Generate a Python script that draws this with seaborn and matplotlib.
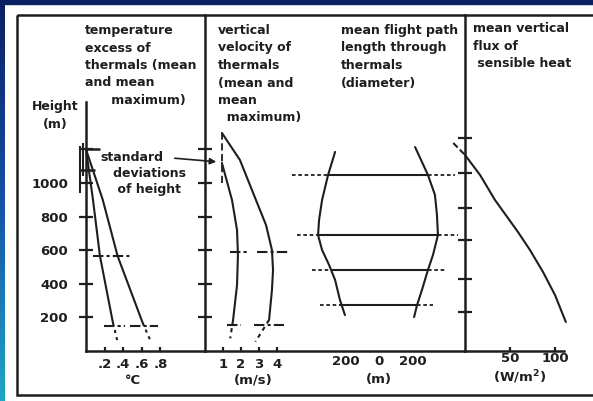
import matplotlib
matplotlib.use('Agg')
import matplotlib.pyplot as plt
import seaborn as sns
import numpy as np
from matplotlib.patches import Rectangle
from matplotlib.colors import LinearSegmentedColormap

sns.set_style("white")
plt.rcParams["font.family"] = ["DejaVu Sans"]
plt.rcParams["font.weight"] = "bold"

INK = "#1e1e1e"
W, H = 593, 401

# shared height axis (m)
height_ticks = [200, 400, 600, 800, 1000, 1200]
height_labels = ["200", "400", "600", "800", "1000", ""]
flux_axis_ticks = [230, 430, 660, 850, 1060, 1270]

# temperature excess of thermals (deg C)
temp_h = [1200, 900, 565, 167]
temp_mean = [0.0, 0.075, 0.15, 0.29]
temp_max = [0.0, 0.18, 0.34, 0.61]
temp_ext_h = [167, 65]
temp_mean_ext = [0.29, 0.335]
temp_max_ext = [0.61, 0.69]
temp_sd_h = [565, 150, 150]
temp_sd_lo = [0.075, 0.19, 0.47]
temp_sd_hi = [0.47, 0.42, 0.77]
temp_ticks = [0.2, 0.4, 0.6, 0.8]
temp_tick_labels = [".2", ".4", ".6", ".8"]

# standard deviations of height (bars left of the height axis)
sdh_x = [-0.065, -0.03]
sdh_lo = [940, 1040]
sdh_hi = [1220, 1240]
sdh_cap_h = [1200, 1077]
sdh_cap_lo = [0.0, -0.065]
sdh_cap_hi = [0.15, 0.1]

# vertical velocity of thermals (m/s)
vel_mean_h = [1119, 899, 720, 571, 393, 185]
vel_mean = [0.94, 1.5, 1.78, 1.83, 1.78, 1.56]
vel_mean_ext_h = [185, 75]
vel_mean_ext = [1.56, 1.4]
vel_max_h = [1298, 1137, 899, 750, 601, 482, 363, 185]
vel_max = [0.94, 1.94, 2.83, 3.39, 3.72, 3.78, 3.72, 3.56]
vel_max_ext_h = [185, 55]
vel_max_ext = [3.56, 2.8]
vel_sd_h = [590, 590, 155, 155]
vel_sd_lo = [1.4, 2.9, 1.2, 2.7]
vel_sd_hi = [2.4, 4.6, 2.0, 4.4]
vel_ticks = [1, 2, 3, 4]

# mean flight path length through thermals (m)
diam_left_h = [1185, 1048, 899, 780, 690, 601, 512, 423, 304, 214]
diam_left = [-263, -305, -341, -359, -365, -341, -299, -263, -234, -204]
diam_right_h = [1214, 1048, 929, 810, 690, 571, 482, 363, 274, 202]
diam_right = [216, 293, 335, 347, 353, 323, 293, 257, 228, 210]
diam_lvl_h = [1048, 690, 482, 274]
diam_lvl_lo = [-305, -365, -287, -240]
diam_lvl_hi = [293, 353, 293, 228]
diam_dot_lo = [-520, -490, -400, -355]
diam_dot_hi = [455, 475, 395, 325]
diam_ticks = [-200, 0, 200]
diam_tick_labels = ["200", "0", "200"]

# mean vertical flux of sensible heat (W/m2)
flux_h = [1167, 1048, 899, 708, 601, 470, 333, 173]
flux = [0, 16.7, 33.3, 58.9, 72.2, 86.7, 100, 112]
flux_ext_h = [1238, 1167]
flux_ext = [-13, 0]
flux_ticks = [50, 100]


fig = plt.figure(figsize=(W / 100, H / 100), dpi=100)
fig.patch.set_facecolor("white")


def px_axes(x0, x1, y0=15, y1=351):
    ax = fig.add_axes([x0 / W, 1 - y1 / H, (x1 - x0) / W, (y1 - y0) / H])
    ax.set_facecolor("none")
    ax.set_ylim(0, 2000)
    for s in ax.spines.values():
        s.set_visible(False)
        s.set_color(INK)
        s.set_linewidth(1.8)
    ax.tick_params(colors=INK, labelsize=9.5, width=1.6, left=True, bottom=True)
    return ax


def ftext(x, y, s, **kw):
    kw.setdefault("fontsize", 9)
    kw.setdefault("color", INK)
    kw.setdefault("fontweight", "bold")
    kw.setdefault("linespacing", 1.45)
    fig.text(x / W, 1 - y / H, s, **kw)


def curve(ax, x, y, ls="-", lw=1.5):
    sns.lineplot(x=x, y=y, ax=ax, sort=False, estimator=None, color=INK,
                 lw=lw, linestyle=ls, clip_on=False)


# background: blue slide border + scanned frame
bg = fig.add_axes([0, 0, 1, 1], zorder=-1)
cmap = LinearSegmentedColormap.from_list("slide", ["#0b1f63", "#1550a8", "#1fa6c6"])
bg.imshow(np.linspace(0, 1, 200)[:, None], extent=(0, 5, H, 0), cmap=cmap, aspect="auto")
bg.add_patch(Rectangle((0, 0), W, 4, color="#0b1f63"))
bg.add_patch(Rectangle((17, 15), 590, 380, fill=False, lw=1.8, ec=INK))
bg.set_xlim(0, W)
bg.set_ylim(H, 0)
bg.axis("off")

# panel 1: temperature excess
ax1 = px_axes(77, 205)
ax1.set_xlim(-0.097, 1.28)
ax1.spines["left"].set_visible(True)
ax1.spines["left"].set_position(("data", 0))
ax1.spines["left"].set_bounds(0, 1480)
ax1.spines["bottom"].set_visible(True)
ax1.spines["bottom"].set_bounds(0, 1.28)
ax1.set_yticks(height_ticks, height_labels)
ax1.tick_params(axis="y", direction="inout", length=10, pad=8)
ax1.set_xticks(temp_ticks, temp_tick_labels)
ax1.tick_params(axis="x", direction="in", length=3, pad=5)
curve(ax1, temp_mean, temp_h)
curve(ax1, temp_max, temp_h)
curve(ax1, temp_mean_ext, temp_ext_h, ls=(0, (1.5, 2)))
curve(ax1, temp_max_ext, temp_ext_h, ls=(0, (1.5, 2)))
ax1.hlines(temp_sd_h, temp_sd_lo, temp_sd_hi, color=INK, lw=1.5, linestyles=(0, (5, 1.5, 1.5, 1.5)))
ax1.vlines(sdh_x, sdh_lo, sdh_hi, color=INK, lw=1.5, clip_on=False)
ax1.hlines(sdh_cap_h, sdh_cap_lo, sdh_cap_hi, color=INK, lw=1.8, clip_on=False)
ax1.set_xlabel("")
ax1.set_ylabel("")

# panel 2: vertical velocity (its bottom axis runs on under panel 3)
ax2 = px_axes(205, 464)
ax2.set_xlim(0, 14.39)
ax2.spines["left"].set_visible(True)
ax2.spines["bottom"].set_visible(True)
ax2.set_yticks(height_ticks, [""] * len(height_ticks))
ax2.tick_params(axis="y", direction="inout", length=10)
ax2.set_xticks(vel_ticks, [str(v) for v in vel_ticks])
ax2.tick_params(axis="x", direction="in", length=3, pad=5)
curve(ax2, vel_mean, vel_mean_h)
curve(ax2, vel_max, vel_max_h)
curve(ax2, vel_mean_ext, vel_mean_ext_h, ls=(0, (2, 2)))
curve(ax2, vel_max_ext, vel_max_ext_h, ls=(0, (2, 2)))
ax2.hlines(vel_sd_h, vel_sd_lo, vel_sd_hi, color=INK, lw=1.5, linestyles=(0, (5, 1.5, 1.5, 1.5)))
ax2.vlines(0.95, 1000, 1300, color=INK, lw=1.3, linestyles=(0, (4, 2)))
ax2.set_xlabel("")
ax2.set_ylabel("")

# panel 3: flight path length (diameter)
ax3 = px_axes(285, 464)
ax3.set_xlim(-563, 509)
ax3.set_yticks([])
ax3.set_xticks(diam_ticks, diam_tick_labels)
ax3.tick_params(axis="x", length=0, pad=3)
curve(ax3, diam_left, diam_left_h)
curve(ax3, diam_right, diam_right_h)
ax3.hlines(diam_lvl_h, diam_lvl_lo, diam_lvl_hi, color=INK, lw=1.5)
ax3.hlines(diam_lvl_h, diam_dot_lo, diam_lvl_lo, color=INK, lw=1.3, linestyles=(0, (2, 1.5)))
ax3.hlines(diam_lvl_h, diam_lvl_hi, diam_dot_hi, color=INK, lw=1.3, linestyles=(0, (2, 1.5)))
ax3.set_xlabel("")
ax3.set_ylabel("")

# panel 4: sensible heat flux
ax4 = px_axes(445, 593)
ax4.set_xlim(-22.2, 142.2)
ax4.spines["left"].set_visible(True)
ax4.spines["left"].set_position(("data", 0))
ax4.spines["bottom"].set_visible(True)
ax4.spines["bottom"].set_bounds(0, 110)
ax4.set_yticks(flux_axis_ticks, [""] * len(flux_axis_ticks))
ax4.tick_params(axis="y", direction="inout", length=10)
ax4.set_xticks(flux_ticks, [str(v) for v in flux_ticks])
ax4.tick_params(axis="x", direction="in", length=3, pad=1)
curve(ax4, flux, flux_h)
curve(ax4, flux_ext, flux_ext_h, ls=(0, (3, 1.5)))
ax4.set_xlabel("")
ax4.set_ylabel("")

# titles and annotations
ftext(85, 24, "temperature\nexcess of\nthermals (mean\nand mean\n      maximum)", va="top")
ftext(218, 24, "vertical\nvelocity of\nthermals\n(mean and\nmean\n  maximum)", va="top")
ftext(341, 24, "mean flight path\nlength through\nthermals\n(diameter)", va="top")
ftext(473, 22, "mean vertical\nflux of\n sensible heat", va="top")
ftext(55, 100, "Height\n(m)", va="top", ha="center", fontsize=9, linespacing=1.5)
ftext(100, 151, "standard\n   deviations\n    of height", va="top", linespacing=1.3)
bg.annotate("", xy=(219, 162), xytext=(172, 158),
            arrowprops=dict(arrowstyle="-|>", color=INK, lw=1.2, mutation_scale=9))
ftext(133, 381, "°C", ha="center", va="center", fontsize=9.5)
ftext(253, 380, "(m/s)", ha="center", va="center", fontsize=9.5)
ftext(379, 379, "(m)", ha="center", va="center", fontsize=9.5)
ftext(520, 377, "(W/m$^{\\mathbf{2}}$)", ha="center", va="center", fontsize=9.5)

fig.savefig("out.png", dpi=100)
